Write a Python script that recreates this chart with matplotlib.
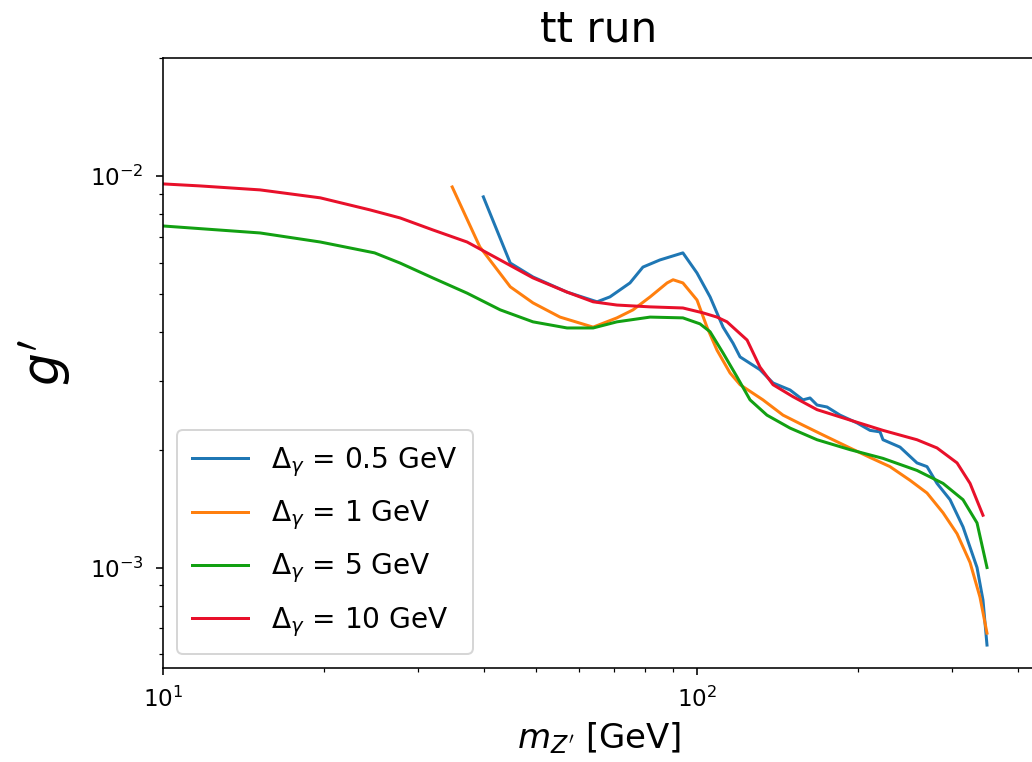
import numpy as np
import matplotlib
matplotlib.use("Agg")
import matplotlib.pyplot as plt

# Delta_gamma = 0.5 GeV
m_05 = [39.8, 44.7, 49.3, 57.1, 65.0, 68.7, 74.9, 79.2, 85.2, 94.1, 100, 105.8, 111.9, 116.8,
        120.4, 131.2, 138.8, 149.4, 157.9, 162.8, 167.8, 175.2, 185.3, 199.4, 210.9, 220.2,
        223.0, 240.0, 258.2, 269.6, 281.5, 297.8, 314.9, 334.5, 343.2, 349.2]
g_05 = [.00884, .00599, .00552, .00505, .00477, .00491, .00533, .00585, .00610, .00636, .00565,
        .00491, .00411, .00374, .00345, .00320, .00296, .00284, .00268, .00271, .00260, .00257,
        .00245, .00234, .00224, .00222, .00212, .00203, .00185, .00181, .00164, .00149, .00127,
        .00100, .000826, .000634]

# Delta_gamma = 1 GeV
m_1 = [34.8, 39.2, 44.7, 49.3, 55.4, 63.9, 70.8, 75.9, 81.7, 87.9, 90.2, 94.1, 100, 104.4,
       109.0, 115.3, 120.4, 132.9, 144.9, 157.9, 172.2, 193.4, 210.9, 229.8, 250.6, 269.6,
       288.9, 306.9, 324.6, 338.8, 349.2]
g_1 = [.00937, .00659, .00521, .00474, .00436, .00411, .00434, .00455, .00491, .00533, .00543,
       .00533, .00482, .00411, .00359, .00314, .00293, .00268, .00245, .00231, .00218, .00202,
       .00191, .00181, .00167, .00155, .00138, .00122, .00103, .000840, .000680]

# Delta_gamma = 5 GeV
m_5 = [10, 15.2, 19.7, 24.9, 27.8, 32.0, 37.1, 42.8, 49.3, 57.1, 63.9, 70.8, 81.7, 94.1, 101.3,
       105.8, 111.9, 118.8, 125.7, 135.2, 149.4, 167.8, 193.4, 223.0, 258.2, 288.9, 314.9,
       334.5, 349.2]
g_5 = [.00745, .00715, .00678, .00636, .00599, .00549, .00502, .00455, .00424, .00409, .00409,
       .00424, .00436, .00434, .00419, .00400, .00353, .00307, .00268, .00245, .00227, .00212,
       .00200, .00190, .00177, .00164, .00149, .00130, .00100]

# Delta_gamma = 10 GeV
m_10 = [10, 11.7, 15.2, 19.7, 24.4, 27.8, 32.0, 37.1, 42.8, 49.3, 57.1, 63.9, 70.8, 81.7, 94.1,
        102.6, 109.0, 113.8, 124.1, 131.2, 138.8, 151.3, 167.8, 193.4, 223.0, 258.2, 281.5,
        306.9, 324.6, 343.2]
g_10 = [.00954, .00943, .00921, .00879, .00819, .00781, .00728, .00678, .00610, .00549, .00505,
        .00477, .00468, .00463, .00460, .00447, .00436, .00424, .00381, .00325, .00293, .00273,
        .00253, .00238, .00224, .00212, .00202, .00185, .00164, .00136]

labels = [r"$\Delta_{\gamma}$ = 0.5 GeV", r"$\Delta_{\gamma}$ = 1 GeV",
          r"$\Delta_{\gamma}$ = 5 GeV", r"$\Delta_{\gamma}$ = 10 GeV"]
colors = ["#1f77b4", "#ff7f0e", "#12a012", "#e8102a"]

fig = plt.figure(figsize=(1032 / 144, 762 / 144), dpi=144)
# axes runs past the right edge of the picture, as in the cropped original
ax = fig.add_axes([163 / 1032, 1 - 668 / 762, (1035 - 163) / 1032, (668 - 58) / 762])

for m, g, lab, c in zip([m_05, m_1, m_5, m_10], [g_05, g_1, g_5, g_10], labels, colors):
    ax.plot(m, g, color=c, lw=1.5, label=lab)

ax.set_xscale("log")
ax.set_yscale("log")
ax.set_xlim(10, 429.5)
ax.set_ylim(5.54e-4, 2e-2)
ax.tick_params(labelsize=11.5, pad=6)

ax.set_title("tt run", fontsize=21, pad=8)
ax.set_xlabel(r"$m_{Z^\prime}$ [GeV]", fontsize=17)
ax.set_ylabel(r"$g^\prime$", fontsize=26, labelpad=8)
ax.legend(loc="lower left", fontsize=14, labelspacing=0.7, borderpad=0.55)

fig.savefig("out.png", dpi=144)
